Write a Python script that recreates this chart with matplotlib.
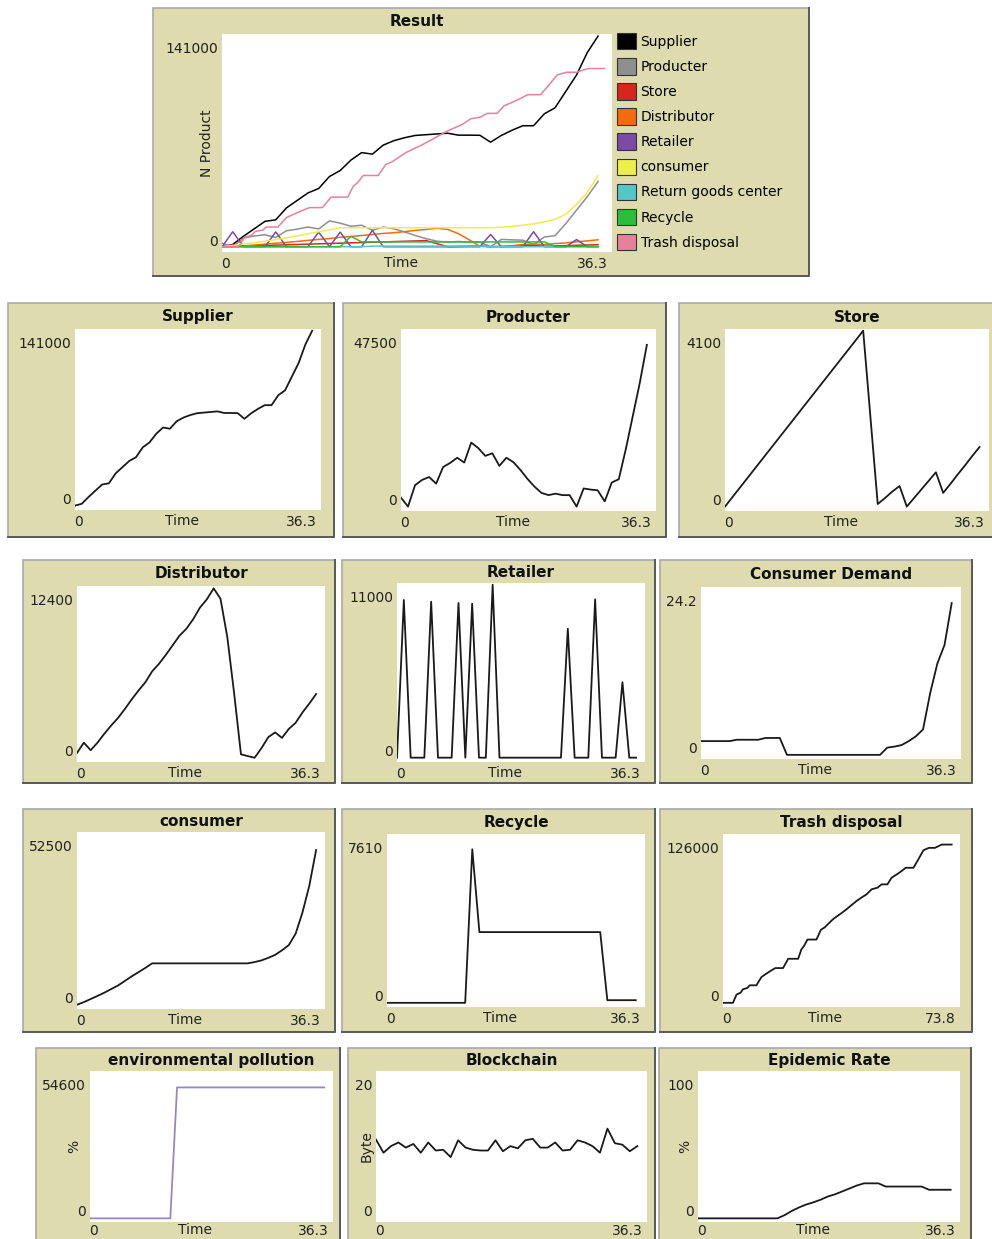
import matplotlib
matplotlib.use('Agg')
import matplotlib.pyplot as plt
import numpy as np
from matplotlib.patches import Rectangle, Patch
from matplotlib.lines import Line2D
from matplotlib.transforms import ScaledTranslation

# ---------------- data ----------------
ticks = [0, 1, 2, 3, 4, 5, 6, 7, 8, 9, 10, 11, 12, 13, 14, 15, 16, 17, 18, 19,
         20, 21, 22, 23, 24, 25, 26, 27, 28, 29, 30, 31, 32, 33, 34, 35]

supplier = [0, 1500, 7000, 12000, 17000, 18000, 26000, 31000, 36000, 39000,
            47000, 51000, 58000, 63000, 62000, 68000, 71000, 73000, 74500, 75000,
            75500, 76000, 74700, 74700, 74600, 70000, 74500, 78000, 81000, 81000,
            89000, 93000, 104000, 115000, 130000, 141000]

producter = [2400, 0, 5800, 7200, 8000, 6200, 10700, 11800, 13200, 11900,
             17300, 15800, 13700, 14400, 11000, 13200, 12000, 9900, 7500, 5400,
             3700, 3100, 3500, 3100, 3100, 0, 4900, 4600, 4400, 1400,
             6500, 7400, 15500, 24500, 33500, 43700]

store = [0, 216, 432, 647, 863, 1079, 1295, 1511, 1726, 1942,
         2158, 2374, 2590, 2805, 3021, 3237, 3453, 3668, 3884, 4100,
         2080, 60, 200, 350, 480, 0, 200, 400, 600, 800,
         320, 530, 750, 960, 1180, 1390]

distributor = [350, 1100, 550, 1100, 1750, 2350, 2900, 3550, 4250, 4900,
               5500, 6300, 6850, 7500, 8200, 8900, 9400, 10100, 10950, 11550,
               12350, 11600, 8800, 4700, 250, 120, 0, 700, 1500, 1850,
               1450, 2100, 2550, 3300, 3950, 4650]

retailer = [0, 10030, 0, 0, 0, 9920, 0, 0, 0, 9840,
            0, 9790, 0, 0, 11000, 0, 0, 0, 0, 0,
            0, 0, 0, 0, 0, 8200, 0, 0, 0, 10070,
            0, 0, 0, 4800, 0, 0]

consumer_demand = [2.0, 2.0, 2.0, 2.0, 2.0, 2.2, 2.2, 2.2, 2.2, 2.46,
                   2.46, 2.46, 0, 0, 0, 0, 0, 0, 0, 0,
                   0, 0, 0, 0, 0, 0, 1.05, 1.2, 1.42, 2.0,
                   2.7, 3.7, 9.0, 13.3, 16.0, 22.1]

consumer = [0, 800, 1750, 2700, 3700, 4800, 5900, 7300, 8700, 10000,
            11300, 12700, 12700, 12700, 12700, 12700, 12700, 12700, 12700, 12700,
            12700, 12700, 12700, 12700, 12700, 12700, 13100, 13600, 14400, 15300,
            16700, 18300, 21800, 28300, 36500, 47500]

return_goods = [0, 0, 0, 0, 0, 0, 0, 0, 0, 0,
                0, 0, 0, 0, 400, 400, 400, 400, 400, 400,
                400, 400, 400, 400, 400, 0, 0, 0, 0, 0,
                0, 0, 0, 0, 0, 0]

recycle = [0, 0, 0, 0, 0, 0, 0, 0, 0, 0,
           0, 0, 6990, 3220, 3220, 3220, 3220, 3220, 3220, 3220,
           3220, 3220, 3220, 3220, 3220, 3220, 3220, 3220, 3220, 3220,
           3220, 120, 120, 120, 120, 120]

trash_x = [0, 3.1, 4.2, 5.5, 6.2, 7.6, 8.3, 10.4, 12.0, 13.5, 15.1, 16.3, 18.7,
           20.3, 23.4, 24.4, 25.3, 26.3, 29.1, 30.5, 31.7, 32.7, 34.3, 35.7,
           36.9, 38.5, 40.0, 41.6, 43.1, 44.7, 46.3, 48.1, 49.4, 51.2, 52.5,
           54.1, 55.6, 56.9, 59.3, 60.8, 62.4, 64.1, 66.0, 68.1, 71.2]
trash_y = [0, 0, 6200, 7700, 10200, 11200, 13200, 13200, 19500, 22000, 24500,
           26200, 26200, 33200, 33200, 40200, 43200, 47700, 47700, 55100, 56900,
           59400, 63100, 65600, 67600, 70600, 73600, 76800, 79300, 81800, 85600,
           86800, 89300, 89300, 94300, 96800, 99300, 101800, 101800, 108000,
           115000, 116800, 116800, 119300, 119300]

pollution = [0, 0, 0, 0, 0, 0, 0, 0, 0, 0,
             0, 0, 0, 49000, 49000, 49000, 49000, 49000, 49000, 49000,
             49000, 49000, 49000, 49000, 49000, 49000, 49000, 49000, 49000, 49000,
             49000, 49000, 49000, 49000, 49000, 49000]

blockchain = [10.8, 9.0, 9.9, 10.4, 9.7, 10.2, 9.0, 10.4, 9.3, 9.4,
              8.4, 10.7, 9.7, 9.4, 9.3, 9.3, 10.7, 9.2, 9.9, 9.6,
              10.7, 10.9, 9.7, 9.7, 10.4, 9.3, 9.4, 10.7, 10.4, 9.9,
              9.0, 12.3, 10.3, 10.1, 9.2, 9.9]

epidemic = [0, 0, 0, 0, 0, 0, 0, 0, 0, 0,
            0, 0, 2.2, 5.1, 7.5, 9.5, 11.0, 12.8, 15.0, 16.5,
            18.5, 20.5, 22.5, 24.0, 24.0, 24.0, 21.8, 21.8, 21.8, 21.8,
            21.8, 21.8, 19.6, 19.6, 19.6, 19.6]

legend_names = ['Supplier', 'Producter', 'Store', 'Distributor', 'Retailer',
                'consumer', 'Return goods center', 'Recycle', 'Trash disposal']
legend_colors = ['#000000', '#8f8f8f', '#d7261e', '#f26b10', '#7b4ba6',
                 '#eeee4a', '#55c6c6', '#2dbd3c', '#e8809d']

# ---------------- layout ----------------
W, H, DPI = 992, 1239, 100
FS = 10
TFS = 11
BG = '#DEDCAF'
fig = plt.figure(figsize=(W / DPI, H / DPI), dpi=DPI)
fig.patch.set_facecolor('white')


def off(dx, dy):
    return ScaledTranslation(dx / DPI, dy / DPI, fig.dpi_scale_trans)


def add_frame(box):
    x0, y0, x1, y1 = box
    fig.add_artist(Rectangle((x0 / W, 1 - y1 / H), (x1 - x0) / W, (y1 - y0) / H,
                             transform=fig.transFigure, facecolor=BG,
                             edgecolor='#a8a8a8', lw=1.2, zorder=0))
    fig.add_artist(Line2D([x0 / W, x1 / W, x1 / W],
                          [1 - y1 / H, 1 - y1 / H, 1 - y0 / H],
                          transform=fig.transFigure, color='#5a5a5a', lw=1.4))


def panel(frame, plot, title, xmax_lab, ymax_lab, xmax, ymax,
          xlabel='Time', ylabel=None, ylab_dx=-15, xpad=5):
    add_frame(frame)
    px0, py0, px1, py1 = plot
    ax = fig.add_axes((px0 / W, 1 - py1 / H, (px1 - px0) / W, (py1 - py0) / H))
    ax.set_facecolor('white')
    for s in ax.spines.values():
        s.set_visible(False)
    ax.set_xlim(0, xmax)
    ax.set_ylim(-0.025 * ymax, 1.01 * ymax)
    ylo, yhi = ax.get_ylim()
    ax.set_yticks([ylo, yhi], ['0', ymax_lab])
    ax.set_xticks([0, xmax], ['0', xmax_lab])
    ax.tick_params(length=0, labelsize=FS, labelcolor='#222222')
    ax.tick_params(axis='y', pad=4 * 0.72)
    ax.tick_params(axis='x', pad=xpad * 0.72)
    yl = ax.get_yticklabels()
    yl[0].set_va('center')
    yl[0].set_transform(yl[0].get_transform() + off(0, 10))
    yl[1].set_va('center')
    yl[1].set_transform(yl[1].get_transform() + off(0, -15))
    xl = ax.get_xticklabels()
    xl[0].set_ha('left')
    xl[0].set_transform(xl[0].get_transform() + off(-1, 0))
    xl[1].set_ha('right')
    xl[1].set_transform(xl[1].get_transform() + off(-4, 0))
    if xlabel:
        ax.text(0.5, 0, xlabel, transform=ax.transAxes + off(-16, -(xpad + 6)),
                ha='center', va='center', fontsize=FS, color='#222222')
    if ylabel:
        ax.text(0, 0.5, ylabel, transform=ax.transAxes + off(ylab_dx, 0),
                ha='center', va='center', rotation=90, fontsize=FS,
                color='#222222')
    fig.text((px0 + px1) / 2 / W, 1 - ((frame[1] + py0) / 2 + 1) / H, title,
             ha='center', va='center', fontsize=TFS, fontweight='bold',
             color='#111111')
    return ax


LC = '#1a1a1a'
LW = 1.3

# Result
ax = panel((153, 8, 809, 276), (222, 34, 612, 252), 'Result', '36.3', '141000',
           36.3, 141000, ylabel='N Product', ylab_dx=-15)
series = [supplier, producter, store, distributor, retailer, consumer,
          return_goods, recycle]
for vals, col in zip(series, legend_colors[:8]):
    ax.plot(ticks, vals, color=col, lw=1.1)
ax.plot(np.array(trash_x) / 2, trash_y, color=legend_colors[8], lw=1.1)
handles = [Patch(facecolor=c, edgecolor='#333333', lw=0.8) for c in legend_colors]
fig.legend(handles, legend_names, loc='upper left',
           bbox_to_anchor=(617 / W, 1 - 33 / H), frameon=False, fontsize=FS,
           handlelength=1.4, handleheight=1.45, handletextpad=0.3,
           labelspacing=0.62, borderpad=0, borderaxespad=0)

# Row 1
ax = panel((8, 303, 334, 537), (75, 329, 321, 510), 'Supplier', '36.3', '141000', 36.3, 141000)
ax.plot(ticks, supplier, color=LC, lw=LW)
ax = panel((343, 303, 666, 537), (401, 329, 656, 511), 'Producter', '36.3', '47500', 36.3, 47500)
ax.plot(ticks, producter, color=LC, lw=LW)
ax = panel((679, 303, 995, 537), (725, 329, 989, 511), 'Store', '36.3', '4100', 36.3, 4100)
ax.plot(ticks, store, color=LC, lw=LW)

# Row 2
ax = panel((23, 560, 335, 783), (77, 586, 325, 762), 'Distributor', '36.3', '12400', 36.3, 12400)
ax.plot(ticks, distributor, color=LC, lw=LW)
ax = panel((342, 560, 655, 783), (397, 583, 645, 762), 'Retailer', '36.3', '11000', 36.3, 11000)
ax.plot(ticks, retailer, color=LC, lw=LW)
ax = panel((660, 560, 972, 783), (701, 587, 961, 759), 'Consumer Demand', '36.3', '24.2', 36.3, 24.2)
ax.plot(ticks, consumer_demand, color=LC, lw=LW)

# Row 3
ax = panel((23, 809, 335, 1032), (77, 832, 325, 1009), 'consumer', '36.3', '52500', 36.3, 52500)
ax.plot(ticks, consumer, color=LC, lw=LW)
ax = panel((342, 809, 655, 1032), (387, 834, 645, 1007), 'Recycle', '36.3', '7610', 36.3, 7610)
ax.plot(ticks, recycle, color=LC, lw=LW)
ax = panel((660, 809, 972, 1032), (723, 834, 960, 1007), 'Trash disposal', '73.8', '126000', 73.8, 126000)
ax.plot(trash_x, trash_y, color=LC, lw=LW)

# Row 4
ax = panel((36, 1048, 340, 1245), (90, 1071, 333, 1222), 'environmental pollution', '36.3', '54600',
           36.3, 54600, ylabel='%', ylab_dx=-16, xpad=2)
ax.plot(ticks, pollution, color='#9b86c0', lw=LW)
ax = panel((348, 1048, 655, 1245), (376, 1071, 647, 1222), 'Blockchain', '36.3', '20',
           36.3, 20, xlabel=None, ylabel='Byte', ylab_dx=-9, xpad=2)
ax.plot(ticks, blockchain, color=LC, lw=LW)
ax = panel((659, 1048, 971, 1245), (698, 1071, 960, 1222), 'Epidemic Rate', '36.3', '100',
           36.3, 100, ylabel='%', ylab_dx=-13, xpad=2)
ax.plot(ticks, epidemic, color=LC, lw=LW)

fig.savefig('out.png', dpi=DPI, facecolor='white')
